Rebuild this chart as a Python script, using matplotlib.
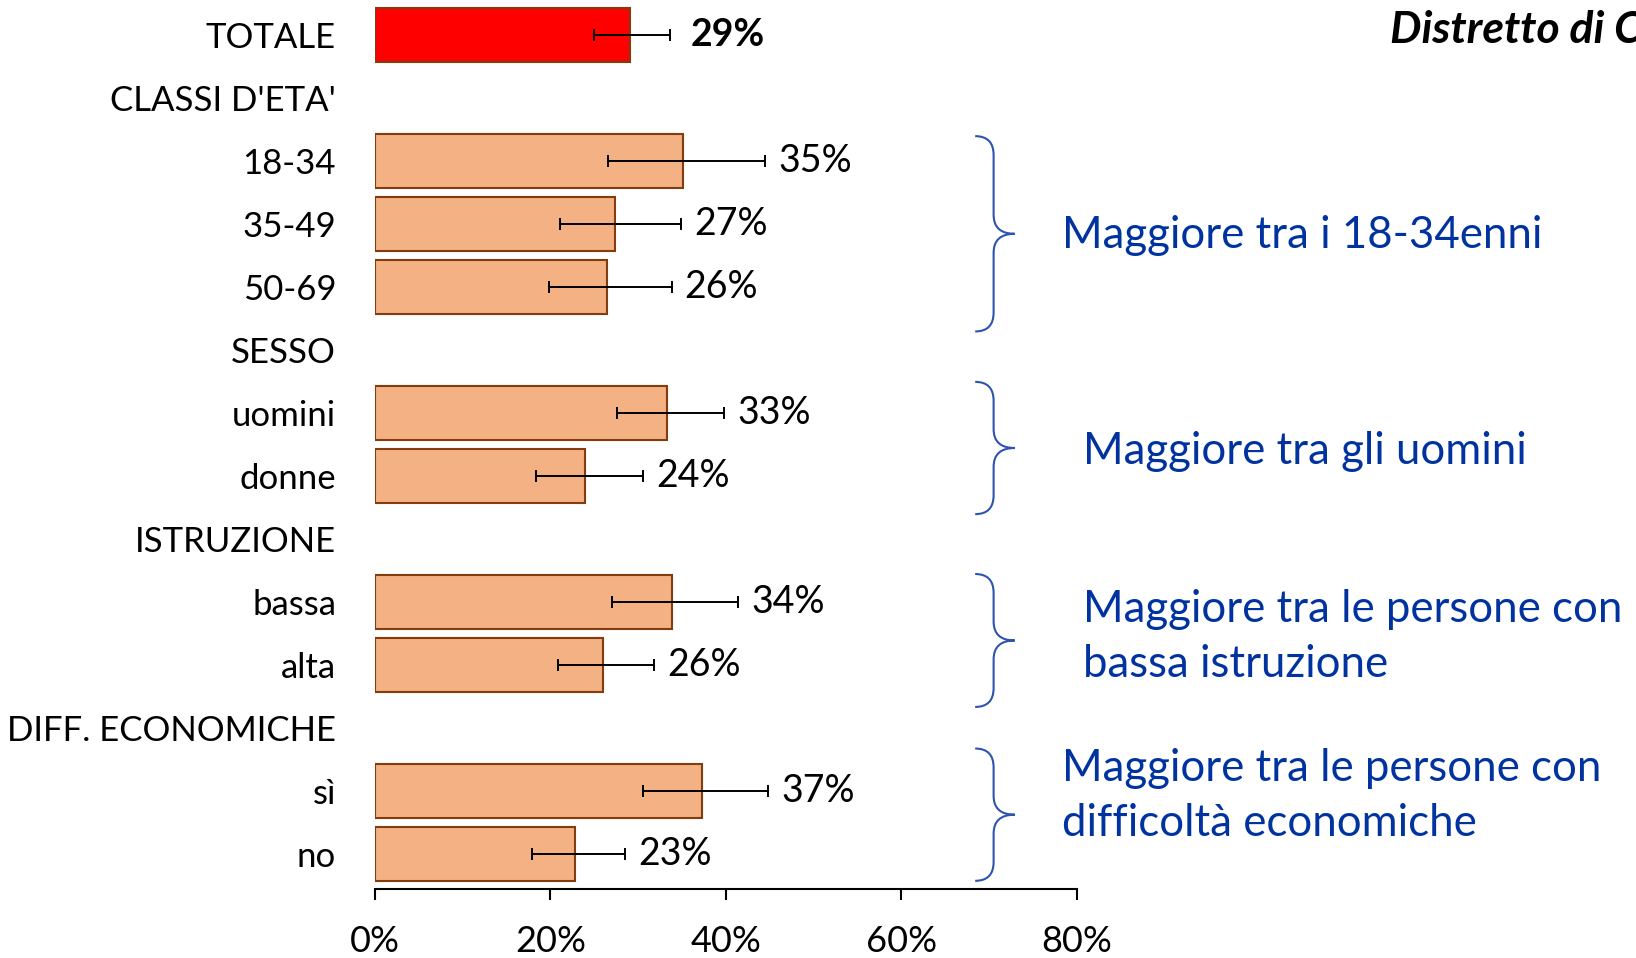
import matplotlib.pyplot as plt
from matplotlib.path import Path
from matplotlib.patches import PathPatch

plt.rcParams['font.family'] = ['Lato', 'DejaVu Sans']

labels = ["TOTALE", "CLASSI D'ETA'", "18-34", "35-49", "50-69", "SESSO", "uomini", "donne",
          "ISTRUZIONE", "bassa", "alta", "DIFF. ECONOMICHE", "sì", "no"]
values = [29.1, None, 35.1, 27.3, 26.4, None, 33.3, 23.9, None, 33.8, 26.0, None, 37.3, 22.8]
ci_low = [25.0, None, 26.6, 21.1, 19.8, None, 27.6, 18.4, None, 27.0, 20.9, None, 30.6, 17.9]
ci_high = [33.6, None, 44.5, 34.9, 33.8, None, 39.8, 30.6, None, 41.4, 31.8, None, 44.8, 28.5]
xticks = [0, 20, 40, 60, 80]

# annotation groups: (first row, last row, text)
notes = [
    (2, 4, "Maggiore tra i 18-34enni"),
    (6, 7, "Maggiore tra gli uomini"),
    (9, 10, "Maggiore tra le persone con\nbassa istruzione"),
    (12, 13, "Maggiore tra le persone con\ndifficoltà economiche"),
]
brace_span = [(-0.4, 0.7), (-0.5, 0.6), (-0.45, 0.66), (-0.68, 0.42)]
note_x = [78.3, 80.7, 80.7, 78.3]
note_dy = [0.02, 0.05, -0.05, -0.3]

BLUE = "#0033A0"
fig = plt.figure(figsize=(16.36, 9.58), dpi=100)
ax = fig.add_axes([0.2292, 0.072, 0.4291, 0.924])

for i, v in enumerate(values):
    if v is None:
        continue
    total = labels[i] == "TOTALE"
    ax.barh(i, v, height=0.86, color="#FF0000" if total else "#F4B183",
            edgecolor="#843C0C", linewidth=1.5, zorder=2)
    ax.errorbar(v, i, xerr=[[v - ci_low[i]], [ci_high[i] - v]], fmt="none",
                ecolor="black", elinewidth=1.4, capsize=4.5, capthick=1.4, zorder=3)
    ax.text(ci_high[i] + (2.4 if total else 1.5), i, f"{round(v)}%", va="center", ha="left",
            fontsize=27, fontweight="bold" if total else "normal")

ax.set_ylim(13.55, -0.5)
ax.set_xlim(0, 80)
ax.set_yticks(range(len(labels)))
ax.set_yticklabels(labels, fontsize=25)
ax.set_xticks(xticks)
ax.set_xticklabels([f"{t}%" for t in xticks], fontsize=26)
ax.tick_params(axis="y", length=0, pad=28)
ax.tick_params(axis="x", length=8, width=1.5, pad=18, direction="out")
for s in ["left", "top", "right"]:
    ax.spines[s].set_visible(False)
ax.spines["bottom"].set_linewidth(1.5)

# curly braces and notes
xb, xv, xt = 68.4, 70.5, 72.9
r = 0.3
for (first, last, txt), (d0, d1), nx, dy in zip(notes, brace_span, note_x, note_dy):
    y0, y1 = first + d0, last + d1
    ym = (y0 + y1) / 2
    verts = [(xb, y0), (xv, y0), (xv, y0 + r), (xv, ym - r), (xv, ym), (xt, ym),
             (xv, ym), (xv, ym + r), (xv, y1 - r), (xv, y1), (xb, y1)]
    codes = [Path.MOVETO, Path.CURVE3, Path.CURVE3, Path.LINETO, Path.CURVE3, Path.CURVE3,
             Path.CURVE3, Path.CURVE3, Path.LINETO, Path.CURVE3, Path.CURVE3]
    ax.add_patch(PathPatch(Path(verts, codes), fill=False, edgecolor="#2E54B0",
                           linewidth=1.5, clip_on=False))
    ax.text(nx, ym + dy, txt, color=BLUE, fontsize=31.5, va="center", ha="left",
            linespacing=1.43, clip_on=False)

fig.text(0.8496, 0.969, "Distretto di C", fontsize=32, fontweight="bold",
         fontstyle="italic", va="center", ha="left")

fig.savefig("out.png", dpi=100)
